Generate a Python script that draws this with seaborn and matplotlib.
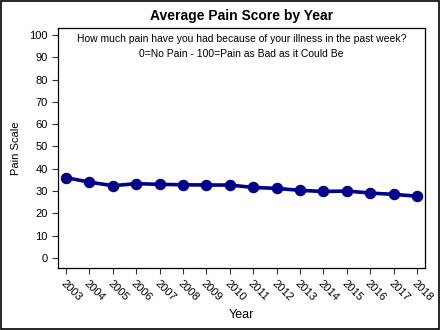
import matplotlib
matplotlib.use("Agg")
import matplotlib.pyplot as plt
import seaborn as sns
import pandas as pd

years = [str(y) for y in range(2003, 2019)]
pain = [36.0, 34.0, 32.4, 33.3, 33.0, 32.8, 32.7, 32.7, 31.6, 31.2, 30.3, 29.8, 30.0, 29.1, 28.5, 27.7]
yticks = list(range(0, 101, 10))

sns.set_style("ticks")
plt.rcParams['font.family'] = ['Liberation Sans', 'DejaVu Sans']
plt.rcParams.update({"text.color": "black", "axes.labelcolor": "black",
                     "xtick.color": "black", "ytick.color": "black"})

df = pd.DataFrame({"Year": years, "Pain": pain})

fig = plt.figure(figsize=(4.4, 3.3), dpi=100)
ax = fig.add_axes([0.132, 0.188, 0.834, 0.727])
sns.lineplot(data=df, x="Year", y="Pain", ax=ax, color="#00008B", linewidth=2.6,
             marker="o", markersize=7.5, markeredgecolor="#00008B", sort=False)

ax.set_ylim(-4.5, 103.1)
ax.set_xlim(-0.34, 15.34)
ax.set_yticks(yticks)
ax.set_yticklabels([str(t) for t in yticks], fontsize=8)
ax.set_xticks(range(len(years)))
ax.set_xticklabels(years, rotation=-45, ha="left", rotation_mode="anchor", fontsize=8)
ax.tick_params(axis="both", direction="out", length=4, width=0.8, color="#333333")
for s in ax.spines.values():
    s.set_linewidth(0.9)
    s.set_color("black")
ax.set_xlabel("Year", fontsize=9)
ax.set_ylabel("Pain Scale", fontsize=8, labelpad=6)
ax.set_title("Average Pain Score by Year", fontsize=10, fontweight="bold", pad=6)
ax.text(0.5, 0.975, "How much pain have you had because of your illness in the past week?\n0=No Pain - 100=Pain as Bad as it Could Be",
        transform=ax.transAxes, ha="center", va="top", fontsize=7.5, linespacing=1.6)

fig.patches.append(plt.Rectangle((0.002, 0.003), 0.995, 0.994, transform=fig.transFigure,
                                 fill=False, edgecolor="black", linewidth=1.2))
fig.savefig("out.png", dpi=100)
